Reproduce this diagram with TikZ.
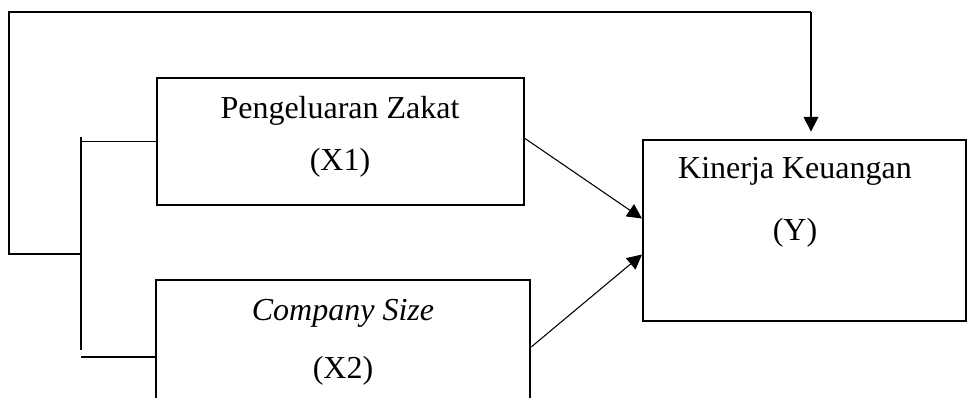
\documentclass[tikz,border=0pt]{standalone}
\usepackage{fontspec}
\setmainfont{Liberation Serif}
\usetikzlibrary{arrows.meta,calc}

\tikzset{
  box/.style={draw, line width=1.8pt, inner sep=0pt},
  lbl/.style={anchor=base, font=\fontsize{24}{28}\selectfont},
  conn/.style={line width=0.8pt},
  arr/.style={conn, -{Triangle[length=11pt,width=11pt]}}
}

\begin{document}
\begin{tikzpicture}[x=0.75pt,y=-0.75pt]
        \useasboundingbox (0,0) rectangle (968,397);

        % variables
        \node[box, minimum width=275pt, minimum height=95pt] (x1) at (340.5,141.5) {};
        \node[box, minimum width=280.5pt, minimum height=90pt] (x2) at (343,340) {};
        \node[box, minimum width=242pt, minimum height=136pt] (y) at (804.5,230.5) {};

        \node[lbl] (x1name) at (340,118) {Pengeluaran Zakat};
        \node[lbl] (x1code) at (340,170) {(X1)};
        \node[lbl] (x2name) at (343,320) {\itshape Company Size};
        \node[lbl] (x2code) at (343,378) {(X2)};
        \node[lbl] (yname) at (795,178) {Kinerja Keuangan};
        \node[lbl] (ycode) at (795,240) {(Y)};

        % bracket joining X1 and X2
        \coordinate (b1) at (81,137);
        \coordinate (b2) at (81,350);
        \coordinate (b3) at (81,357);
        \draw[conn] (b1) -- (b2);
        \draw[conn] (x1.west -| b1) -- (x1.west);
        \draw[conn] (b3) -- (b3 -| x2.west);

        % simultaneous path over the top
        \coordinate (fb) at (9,254);
        \coordinate (top) at (811,12);
        \draw[conn] (b1 |- fb) -- (fb) |- (top);
        \draw[arr, shorten >=5.25pt] (top) -- (y.north -| top);

        % partial paths
        \draw[arr] ($(x1.east)+(0,-3)$) -- ($(y.west)+(0,-12)$);
        \draw[arr] ($(x2.east)+(0,7)$) -- ($(y.west)+(0,24)$);
    \end{tikzpicture}
\end{document}
